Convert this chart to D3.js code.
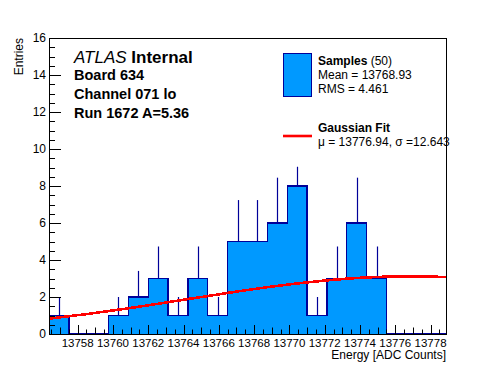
<!DOCTYPE html>
<html>
<head>
<meta charset="utf-8">
<script src="https://cdn.jsdelivr.net/npm/d3@7/dist/d3.min.js"></script>
<style>
  body { margin: 0; background: #fff; }
  text { font-family: "Liberation Sans", Arial, Helvetica, sans-serif; }
</style>
</head>
<body>
<svg id="chart" width="496" height="372"></svg>
<script>
// histogram binning (20 bins across the axis range)
var binLow = 13756.375;
var binWidth = 1.125;
var counts = [1, 0, 0, 1, 2, 3, 1, 3, 1, 5, 5, 6, 8, 1, 3, 6, 3, 0, 0, 0];
var errors = [1, 0, 0, 1, 1.41, 1.73, 1, 1.73, 1, 2.24, 2.24, 2.45, 1.04, 1, 1.73, 2.45, 1.73, 0, 0, 0];

// gaussian fit curve, read at each bin edge
var fitValues = [0.83, 0.96, 1.09, 1.24, 1.39, 1.55, 1.72, 1.89, 2.05, 2.22, 2.38,
                 2.53, 2.67, 2.79, 2.90, 2.99, 3.06, 3.10, 3.12, 3.11, 3.08];

var xTickLabels = [13758, 13760, 13762, 13764, 13766, 13768, 13770, 13772, 13774, 13776, 13778];
var yTickLabels = [0, 2, 4, 6, 8, 10, 12, 14, 16];

var infoLines = ['Board 634', 'Channel 071 lo', 'Run 1672 A=5.36'];
var statLines = ['Mean = 13768.93', 'RMS = 4.461'];

var fillColor = '#0099ff';
var lineColor = '#000099';

var svg = d3.select('#chart');
var pl = 49, pr = 446, pt = 38, pb = 334;

var x = d3.scaleLinear()
  .domain([binLow, binLow + binWidth * counts.length])
  .range([pl, pr]);
var y = d3.scaleLinear().domain([0, 16]).range([pb, pt]);

// histogram fill + outline
var bins = counts.map(function(c, i) {
  return { x0: binLow + i * binWidth, n: c, e: errors[i] };
});
var stepPts = bins.concat([{ x0: binLow + counts.length * binWidth, n: 0 }]);

svg.append('path')
  .datum(stepPts)
  .attr('d', d3.area()
    .curve(d3.curveStepAfter)
    .x(function(d) { return x(d.x0); })
    .y0(y(0))
    .y1(function(d) { return y(d.n); }))
  .attr('fill', fillColor);

svg.append('path')
  .datum(stepPts)
  .attr('d', d3.line()
    .curve(d3.curveStepAfter)
    .x(function(d) { return x(d.x0); })
    .y(function(d) { return y(d.n); }))
  .attr('fill', 'none')
  .attr('stroke', lineColor)
  .attr('stroke-width', 1.3)
  .attr('shape-rendering', 'crispEdges');

// error bars (upper part only visible)
svg.append('g')
  .selectAll('line')
  .data(bins.filter(function(d) { return d.n > 0; }))
  .enter()
  .append('line')
  .attr('x1', function(d) { return Math.round(x(d.x0 + binWidth / 2)) + 0.5; })
  .attr('x2', function(d) { return Math.round(x(d.x0 + binWidth / 2)) + 0.5; })
  .attr('y1', function(d) { return y(d.n); })
  .attr('y2', function(d) { return y(d.n + d.e); })
  .attr('stroke', lineColor)
  .attr('stroke-width', 1.2);

// fit curve
svg.append('path')
  .datum(fitValues)
  .attr('d', d3.line()
    .x(function(d, i) { return x(binLow + i * binWidth); })
    .y(function(d) { return y(d); }))
  .attr('fill', 'none')
  .attr('stroke', '#ff0000')
  .attr('stroke-width', 2.6)
  .attr('shape-rendering', 'crispEdges');

// frame
svg.append('rect')
  .attr('x', pl + 0.5).attr('y', pt + 0.5)
  .attr('width', pr - pl).attr('height', pb - pt)
  .attr('fill', 'none').attr('stroke', '#000').attr('stroke-width', 1);

// x ticks
var xt = svg.append('g').attr('stroke', '#000').attr('stroke-width', 1);
d3.range(13756.5, 13779, 0.5).forEach(function(v) {
  var len = (v % 2 === 0) ? 9 : (v % 1 === 0 ? 6.5 : 4.5);
  var px = Math.round(x(v)) + 0.5;
  xt.append('line').attr('x1', px).attr('x2', px)
    .attr('y1', pb).attr('y2', pb - len);
});
svg.append('g').selectAll('text')
  .data(xTickLabels)
  .enter().append('text')
  .attr('x', function(d) { return x(d); })
  .attr('y', 347)
  .attr('text-anchor', 'middle')
  .attr('font-size', '11.5px')
  .text(function(d) { return d; });

// y ticks
var yt = svg.append('g').attr('stroke', '#000').attr('stroke-width', 1);
d3.range(0, 16.01, 0.5).forEach(function(v) {
  var len = (v % 2 === 0) ? 12 : 6;
  var py = Math.round(y(v)) + 0.5;
  yt.append('line').attr('x1', pl).attr('x2', pl + len)
    .attr('y1', py).attr('y2', py);
});
svg.append('g').selectAll('text')
  .data(yTickLabels)
  .enter().append('text')
  .attr('x', 46)
  .attr('y', function(d) { return y(d) + 4; })
  .attr('text-anchor', 'end')
  .attr('font-size', '12px')
  .text(function(d) { return d; });

// axis titles
svg.append('text')
  .attr('transform', 'translate(23,' + pt + ') rotate(-90)')
  .attr('text-anchor', 'end')
  .attr('font-size', '12px')
  .text('Entries');
svg.append('text')
  .attr('x', pr).attr('y', 359)
  .attr('text-anchor', 'end')
  .attr('font-size', '12px')
  .text('Energy [ADC Counts]');

// ATLAS label
var atlas = svg.append('text').attr('x', 74).attr('y', 63).attr('font-size', '17px');
atlas.append('tspan').attr('font-style', 'italic').text('ATLAS');
atlas.append('tspan').attr('font-weight', 'bold').text(' Internal');

svg.append('g').selectAll('text')
  .data(infoLines)
  .enter().append('text')
  .attr('x', 74)
  .attr('y', function(d, i) { return 80 + i * 19; })
  .attr('font-size', '14.5px')
  .attr('font-weight', 'bold')
  .text(function(d) { return d; });

// legend
var leg = svg.append('g');
leg.append('rect')
  .attr('x', 283.5).attr('y', 53.5).attr('width', 28).attr('height', 43)
  .attr('fill', fillColor).attr('stroke', lineColor).attr('stroke-width', 1);
var s1 = leg.append('text').attr('x', 318).attr('y', 65).attr('font-size', '12px');
s1.append('tspan').attr('font-weight', 'bold').text('Samples');
s1.append('tspan').text(' (50)');
leg.selectAll('.stat')
  .data(statLines)
  .enter().append('text')
  .attr('class', 'stat')
  .attr('x', 318)
  .attr('y', function(d, i) { return 79 + i * 14; })
  .attr('font-size', '12px')
  .text(function(d) { return d; });

leg.append('line')
  .attr('x1', 283).attr('x2', 312).attr('y1', 136).attr('y2', 136)
  .attr('stroke', '#ff0000').attr('stroke-width', 2.6);
leg.append('text').attr('x', 318).attr('y', 132)
  .attr('font-size', '12px').attr('font-weight', 'bold')
  .text('Gaussian Fit');
leg.append('text').attr('x', 318).attr('y', 146)
  .attr('font-size', '12px')
  .text('\u03bc = 13776.94, \u03c3 =12.643');
</script>
</body>
</html>
